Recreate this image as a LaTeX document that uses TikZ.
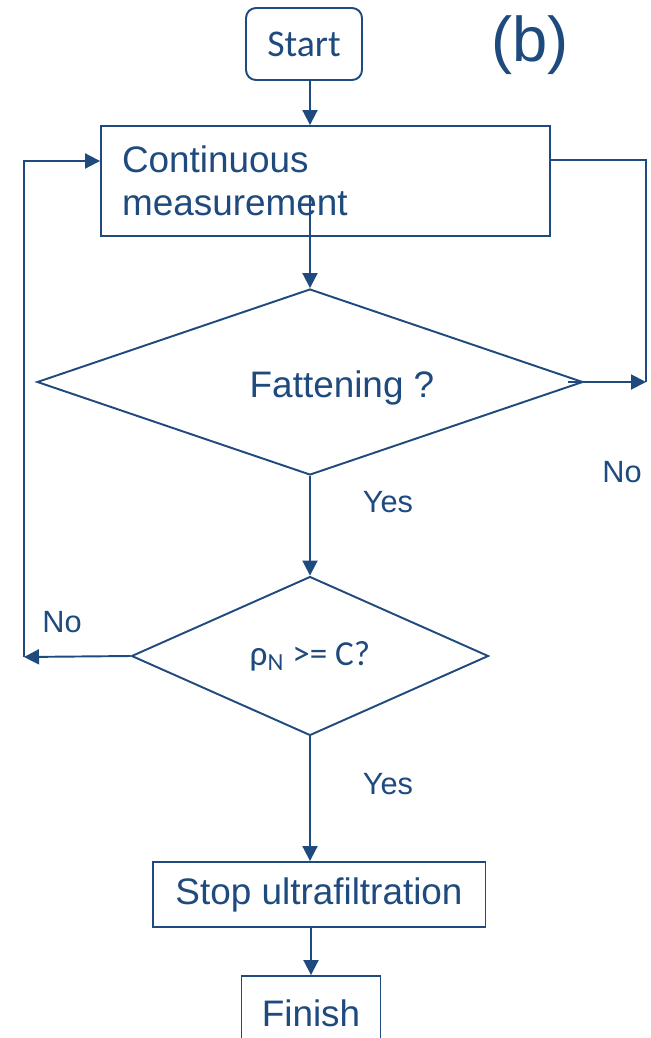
\documentclass[tikz,border=0pt]{standalone}
\usepackage{fontspec}
\setmainfont{Liberation Sans}
\newfontfamily\calib{Carlito}
\usetikzlibrary{arrows.meta,shapes.geometric}
\definecolor{flowblue}{RGB}{31,74,126}
\tikzset{
  box/.style={draw, line width=1.1pt, inner sep=0pt, font=\fontsize{21}{24.5}\selectfont},
  decision/.style={box, diamond},
  lbl/.style={font=\fontsize{17.5}{20}\selectfont}
}
\begin{document}
\begin{tikzpicture}[x=0.02cm, y=-0.02cm, flowblue, line width=1.1pt, >={Triangle[length=0.3cm,width=0.3cm]}]
    \useasboundingbox (0,0) rectangle (650,1038);
    \node (start) [box, rounded corners=0.2cm, minimum width=2.32cm, minimum height=1.44cm, font=\calib\fontsize{21.5}{25}\selectfont] at (304,44) {Start};
    \node (meas) [box, text width=8.14cm, inner xsep=0.42cm, minimum height=2.2cm, align=left] at (325.5,181) {Continuous\\measurement};
    \node (fat) [decision, minimum width=10.92cm, minimum height=3.72cm] at (310,382) {};
    \node (fattxt) [font=\fontsize{21}{24.5}\selectfont] at (342,388) {Fattening ?};
    \node (rho) [decision, minimum width=7.14cm, minimum height=3.18cm, font=\calib\fontsize{20}{23}\selectfont] at (310,656) {ρ\textsubscript{N} >= C?};
    \node (stop) [box, minimum width=6.66cm, minimum height=1.3cm] at (319,894.5) {Stop ultrafiltration};
    \node (finish) [box, minimum width=2.78cm, minimum height=1.48cm] at (311,1013) {Finish};
    \node (tag) [font=\fontsize{36}{40}\selectfont] at (530,45) {(b)};
    \node (yes1) [lbl] at (388,502) {Yes};
    \node (yes2) [lbl] at (388,784) {Yes};
    \node (no1) [lbl] at (622,472) {No};
    \node (no2) [lbl] at (62,622) {No};

    \coordinate (mout) at (310,195);
    \coordinate (rcorner) at (646,382);
    \coordinate (rtop) at (646,160);
    \coordinate (lcorner) at (24,657);
    \coordinate (ltop) at (24,161);

    \draw[->] ([xshift=0.12cm]start.south) -- ([xshift=0.12cm]start.south |- meas.north);
    \draw[->] (mout) -- (fat.north);
    \draw[->] (fat.south) -- (rho.north);
    \draw[->] (rho.south) -- (rho.south |- stop.north);
    \draw[->] (finish.north |- stop.south) -- (finish.north);
    \draw[->] ([xshift=-0.32cm]fat.east) -- (rcorner);
    \draw (rcorner) -- (rtop) -- (rtop -| meas.east);
    \draw[->] (rho.west) -- (lcorner);
    \draw[->] (lcorner) -- (ltop) -- (ltop -| meas.west);
\end{tikzpicture}
\end{document}
